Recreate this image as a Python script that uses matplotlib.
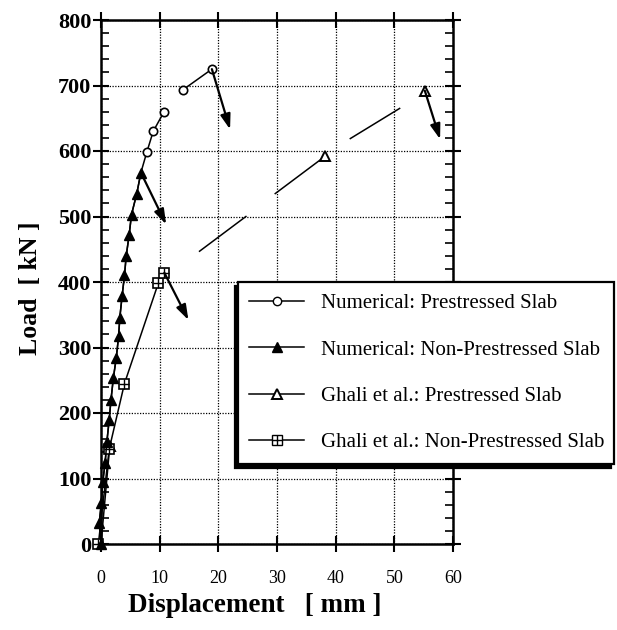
import numpy as np
import matplotlib
matplotlib.use("Agg")
import matplotlib.pyplot as plt
from matplotlib.lines import Line2D
from matplotlib.legend_handler import HandlerTuple
from matplotlib.ticker import MultipleLocator

plt.rcParams['font.family'] = ['Liberation Serif', 'DejaVu Serif']

# ---------------- data ----------------
num_nps_x = [0.0, -0.3, 0.05, 0.3, 0.7, 1.0, 1.4, 1.7, 2.1, 2.6, 3.0, 3.2, 3.6, 4.0, 4.3, 4.8, 5.2, 6.1, 6.8]
num_nps_y = [0, 32, 62, 95, 124, 156, 190, 220, 253, 284, 317, 345, 379, 410, 440, 472, 503, 535, 567]

num_ps_x = num_nps_x + [7.8, 8.9, 10.75, np.nan, 13.9, 18.9]
num_ps_y = num_nps_y + [598, 630, 660, np.nan, 693, 725]

ghali_ps_x = [0.0, 1.5, np.nan, 16.8, 24.7, np.nan, 29.7, 38.2, np.nan, 42.5, 50.9]
ghali_ps_y = [0, 150, np.nan, 447, 500, np.nan, 535, 592, np.nan, 619, 665]
ghali_ps_mx = [1.5, 38.2, 55.2]
ghali_ps_my = [150, 592, 692]

ghali_nps_x = [-0.45, 1.4, 4.0, 9.8, 10.8]
ghali_nps_y = [0, 145, 245, 399, 414]

# arrows: (start x, start y, end x, end y)
arrows = [
    (18.9, 725, 22.0, 633),
    (6.8, 567, 11.1, 488),
    (10.8, 414, 14.9, 342),
    (55.2, 692, 57.8, 618),
]

labels = ["Numerical: Prestressed Slab", "Numerical: Non-Prestressed Slab",
          "Ghali et al.: Prestressed Slab", "Ghali et al.: Non-Prestressed Slab"]
x_ticks = [0, 10, 20, 30, 40, 50, 60]
y_ticks = [0, 100, 200, 300, 400, 500, 600, 700, 800]

# ---------------- figure ----------------
fig = plt.figure(figsize=(6.17, 6.30), dpi=100)
ax = fig.add_axes([101/617, 1-544/630, (453-101)/617, (544-20)/630])

lw = 1.1
n_low = len(num_nps_x)
ax.plot(num_ps_x, num_ps_y, color='black', lw=lw, marker='o', ms=6,
        mfc='white', mec='black', mew=1.2,
        markevery=list(range(n_low, len(num_ps_x))), clip_on=False, zorder=3)
ax.plot(ghali_ps_x, ghali_ps_y, color='black', lw=lw, zorder=3, clip_on=False)
ax.plot(ghali_ps_mx, ghali_ps_my, ls='none', marker='^', ms=7, mfc='white',
        mec='black', mew=1.4, zorder=4, clip_on=False)
ax.plot(ghali_nps_x, ghali_nps_y, color='black', lw=lw, marker='s', ms=7,
        mfc='white', mec='black', mew=1.2, zorder=4, clip_on=False)
ax.plot(ghali_nps_x, ghali_nps_y, ls='none', marker='+', ms=7,
        mec='black', mew=1.0, zorder=5, clip_on=False)
ax.plot(num_nps_x, num_nps_y, color='black', lw=lw, marker='^', ms=7,
        mfc='black', mec='black', zorder=6, clip_on=False)

for (x0, y0, x1, y1) in arrows:
    ax.annotate('', xy=(x1, y1), xytext=(x0, y0),
                arrowprops=dict(arrowstyle='-|>,head_length=0.9,head_width=0.3',
                                color='black', lw=1.6, shrinkA=0, shrinkB=0),
                zorder=7)

ax.set_xlim(0, 60)
ax.set_ylim(0, 800)
ax.set_xticks(x_ticks)
ax.set_yticks(y_ticks)
ax.yaxis.set_minor_locator(MultipleLocator(20))
ax.grid(True, which='major', ls=(0, (1, 1.2)), color='black', lw=0.9)
for s in ax.spines.values():
    s.set_linewidth(1.8)
ax.tick_params(axis='both', which='major', direction='inout', length=12, width=1.5,
               top=True, right=True)
ax.tick_params(axis='y', which='minor', direction='in', length=6, width=1.2,
               left=True, right=True)
ax.tick_params(axis='x', labelsize=13, pad=13)
ax.tick_params(axis='y', labelsize=16, pad=1)
for t in ax.get_yticklabels():
    t.set_fontweight('bold')

ax.set_xlabel('Displacement   [ mm ]', fontsize=19.5, fontweight='bold')
ax.xaxis.set_label_coords((255-101)/352, -(605-544)/524)
ax.xaxis.label.set_va('center')
ax.set_ylabel('Load  [ kN ]', fontsize=18.5, fontweight='bold')
ax.yaxis.set_label_coords(-(101-30)/352, (544-288)/524)
ax.yaxis.label.set_va('center')

# legend
h1 = Line2D([], [], color='black', lw=lw, marker='o', ms=6, mfc='white', mec='black')
h2 = Line2D([], [], color='black', lw=lw, marker='^', ms=7, mfc='black', mec='black')
h3 = Line2D([], [], color='black', lw=lw, marker='^', ms=7, mfc='white', mec='black', mew=1.4)
h4a = Line2D([], [], color='black', lw=lw, marker='s', ms=7, mfc='white', mec='black')
h4b = Line2D([], [], ls='none', marker='+', ms=7, mec='black', mew=1.0)
x0, x1, y0, y1 = 238, 614, 282, 463
leg = ax.legend([h1, h2, h3, (h4a, h4b)], labels,
                handler_map={tuple: HandlerTuple(ndivide=1, pad=0)},
                loc='upper left',
                bbox_to_anchor=(x0/617, 1-y1/630, (x1-x0)/617, (y1-y0)/630),
                bbox_transform=fig.transFigure, borderaxespad=0, mode='expand',
                fontsize=15, labelspacing=1.29, handlelength=2.6,
                handletextpad=0.85, borderpad=0.55, fancybox=False,
                framealpha=1, edgecolor='black',
                shadow={'ox': -2, 'oy': -3, 'color': 'black', 'alpha': 1})
leg.get_frame().set_linewidth(1.6)
leg.set_zorder(10)

fig.savefig('out.png', dpi=100)
